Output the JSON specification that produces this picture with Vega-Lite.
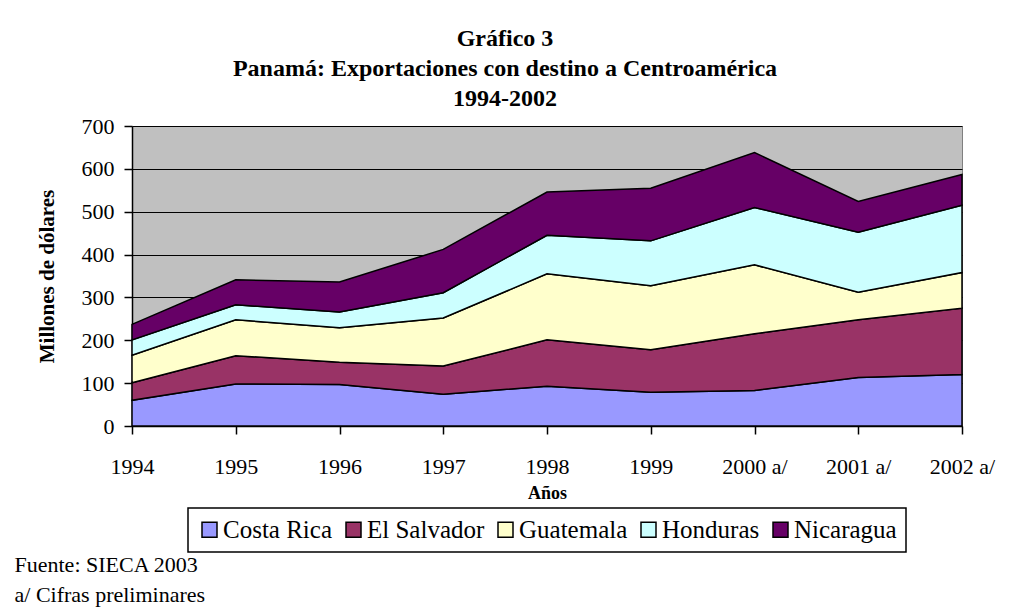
{
  "$schema": "https://vega.github.io/schema/vega-lite/v6.json",
  "autosize": {"type": "pad"},
  "padding": {"left": 14, "top": 26, "right": 0, "bottom": 4},
  "background": "white",
  "title": {
    "text": ["Fuente: SIECA 2003", "a/ Cifras preliminares"],
    "orient": "bottom",
    "anchor": "start",
    "frame": "bounds",
    "font": "Liberation Serif",
    "fontSize": 22,
    "fontWeight": "normal",
    "lineHeight": 30,
    "offset": 2,
    "dx": -21,
    "color": "black"
  },
  "vconcat": [
    {
      "width": 830,
      "height": 300,
      "title": {
        "text": ["Gráfico 3", "Panamá: Exportaciones con destino a Centroamérica", "1994-2002"],
        "anchor": "middle",
        "frame": "group",
        "dx": -42,
        "font": "Liberation Serif",
        "fontSize": 24,
        "fontWeight": "bold",
        "lineHeight": 30,
        "offset": 4,
        "color": "black"
      },
      "data": {
        "values": [
          {"anio": "1994", "pais": "Costa Rica", "valor": 60},
          {"anio": "1994", "pais": "El Salvador", "valor": 41},
          {"anio": "1994", "pais": "Guatemala", "valor": 64},
          {"anio": "1994", "pais": "Honduras", "valor": 36},
          {"anio": "1994", "pais": "Nicaragua", "valor": 36},
          {"anio": "1995", "pais": "Costa Rica", "valor": 98},
          {"anio": "1995", "pais": "El Salvador", "valor": 66},
          {"anio": "1995", "pais": "Guatemala", "valor": 84},
          {"anio": "1995", "pais": "Honduras", "valor": 35},
          {"anio": "1995", "pais": "Nicaragua", "valor": 58},
          {"anio": "1996", "pais": "Costa Rica", "valor": 97},
          {"anio": "1996", "pais": "El Salvador", "valor": 52},
          {"anio": "1996", "pais": "Guatemala", "valor": 80},
          {"anio": "1996", "pais": "Honduras", "valor": 37},
          {"anio": "1996", "pais": "Nicaragua", "valor": 70},
          {"anio": "1997", "pais": "Costa Rica", "valor": 74},
          {"anio": "1997", "pais": "El Salvador", "valor": 66},
          {"anio": "1997", "pais": "Guatemala", "valor": 112},
          {"anio": "1997", "pais": "Honduras", "valor": 59},
          {"anio": "1997", "pais": "Nicaragua", "valor": 101},
          {"anio": "1998", "pais": "Costa Rica", "valor": 93},
          {"anio": "1998", "pais": "El Salvador", "valor": 108},
          {"anio": "1998", "pais": "Guatemala", "valor": 154},
          {"anio": "1998", "pais": "Honduras", "valor": 90},
          {"anio": "1998", "pais": "Nicaragua", "valor": 101},
          {"anio": "1999", "pais": "Costa Rica", "valor": 79},
          {"anio": "1999", "pais": "El Salvador", "valor": 99},
          {"anio": "1999", "pais": "Guatemala", "valor": 149},
          {"anio": "1999", "pais": "Honduras", "valor": 105},
          {"anio": "1999", "pais": "Nicaragua", "valor": 123},
          {"anio": "2000 a/", "pais": "Costa Rica", "valor": 83},
          {"anio": "2000 a/", "pais": "El Salvador", "valor": 132},
          {"anio": "2000 a/", "pais": "Guatemala", "valor": 161},
          {"anio": "2000 a/", "pais": "Honduras", "valor": 134},
          {"anio": "2000 a/", "pais": "Nicaragua", "valor": 128},
          {"anio": "2001 a/", "pais": "Costa Rica", "valor": 113},
          {"anio": "2001 a/", "pais": "El Salvador", "valor": 135},
          {"anio": "2001 a/", "pais": "Guatemala", "valor": 64},
          {"anio": "2001 a/", "pais": "Honduras", "valor": 140},
          {"anio": "2001 a/", "pais": "Nicaragua", "valor": 72},
          {"anio": "2002 a/", "pais": "Costa Rica", "valor": 120},
          {"anio": "2002 a/", "pais": "El Salvador", "valor": 155},
          {"anio": "2002 a/", "pais": "Guatemala", "valor": 83},
          {"anio": "2002 a/", "pais": "Honduras", "valor": 157},
          {"anio": "2002 a/", "pais": "Nicaragua", "valor": 72}
        ]
      },
      "mark": {"type": "area", "stroke": "black", "strokeWidth": 1.5, "opacity": 1, "fillOpacity": 1},
      "encoding": {
        "x": {
          "field": "anio",
          "type": "ordinal",
          "sort": null,
          "scale": {"type": "point", "padding": 0},
          "axis": {
            "title": "Años",
            "labelAngle": 0,
            "tickSize": 8,
            "labelPadding": 22,
            "titlePadding": 7,
            "titleFontSize": 18,
            "grid": false
          }
        },
        "y": {
          "field": "valor",
          "type": "quantitative",
          "stack": "zero",
          "scale": {"domain": [0, 700], "nice": false},
          "axis": {
            "title": "Millones de dólares",
            "values": [0, 100, 200, 300, 400, 500, 600, 700],
            "tickSize": 8,
            "labelPadding": 10,
            "titlePadding": 24,
            "titleFontSize": 21,
            "grid": true
          }
        },
        "color": {
          "field": "pais",
          "type": "nominal",
          "scale": {
            "domain": ["Costa Rica", "El Salvador", "Guatemala", "Honduras", "Nicaragua"],
            "range": ["#9999ff", "#993366", "#ffffcc", "#ccffff", "#660066"]
          },
          "legend": {
            "title": null,
            "orient": "bottom",
            "direction": "horizontal"
          }
        },
        "order": {"field": "pais", "sort": "ascending"}
      }
    }
  ],
  "config": {
    "font": "Liberation Serif",
    "view": {"fill": "#c0c0c0", "stroke": "#808080", "strokeWidth": 1},
    "axis": {
      "labelFont": "Liberation Serif",
      "labelFontSize": 22,
      "labelColor": "black",
      "titleFont": "Liberation Serif",
      "titleFontWeight": "bold",
      "titleColor": "black",
      "domainColor": "black",
      "domainWidth": 1.5,
      "tickColor": "black",
      "tickWidth": 1.5,
      "gridColor": "black",
      "gridOpacity": 1,
      "gridWidth": 1
    },
    "legend": {
      "labelFont": "Liberation Serif",
      "labelFontSize": 25,
      "labelColor": "black",
      "labelLimit": 300,
      "symbolType": "square",
      "symbolSize": 225,
      "symbolStrokeColor": "black",
      "symbolStrokeWidth": 1.5,
      "labelOffset": 1,
      "columnPadding": 8,
      "strokeColor": "black",
      "strokeWidth": 1.5,
      "fillColor": "white",
      "padding": 9,
      "offset": 5,
      "layout": {"bottom": {"anchor": "middle", "bounds": "flush"}}
    }
  }
}
